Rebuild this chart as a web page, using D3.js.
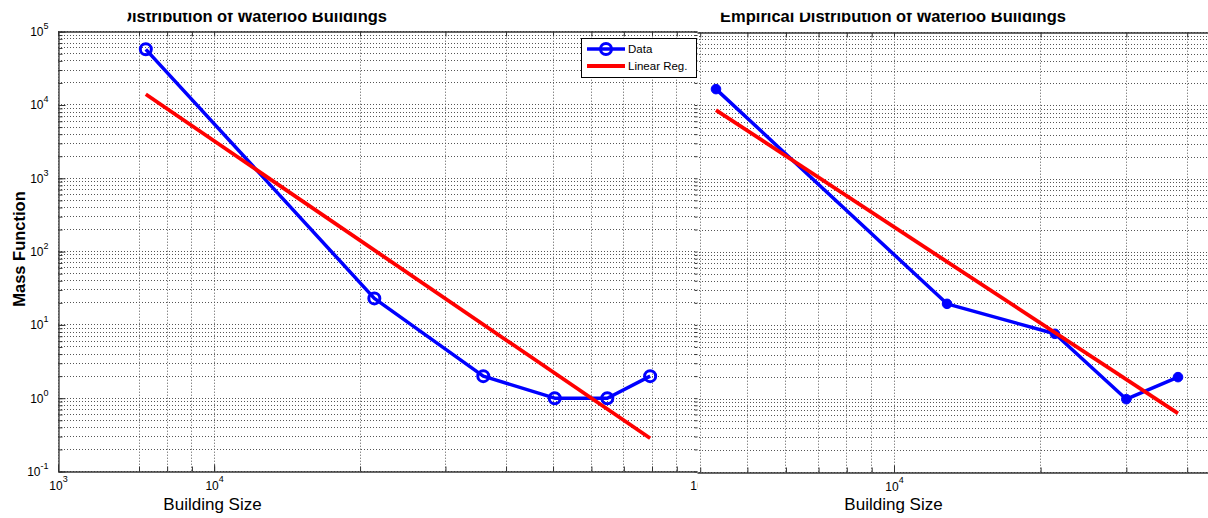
<!DOCTYPE html>
<html>
<head>
<meta charset="utf-8">
<script src="https://cdn.jsdelivr.net/npm/d3@7/dist/d3.min.js"></script>
<style>
  body { margin: 0; background: #fff; }
  svg { display: block; font-family: 'Liberation Sans', Arial, sans-serif; }
</style>
</head>
<body>
<div id="chart"></div>
<script>
///// DATOS /////
const titleText = 'Empirical Distribution of Waterloo Buildings';
const titleTextCut = 'Distribution of Waterloo Buildings'; // en el panel izquierdo "Empirical" queda fuera del recorte
const xLabelText = 'Building Size';
const yLabelText = 'Mass Function';
const legendLabels = ['Data', 'Linear Reg.'];

// panel izquierdo
const leftSize = [7230, 21400, 35900, 50400, 64700, 79300];
const leftMass = [57500, 23, 2, 1, 1, 2];
const leftFitSize = [7230, 79300];
const leftFitMass = [14000, 0.284];

// panel derecho
const rightSize = [4310, 12850, 21400, 30000, 38300];
const rightMass = [17000, 20, 7.8, 1, 2];
const rightFitSize = [4310, 38300];
const rightFitMass = [8800, 0.64];

// etiquetas de ejes (exponentes de 10)
const yTickExps = [-1, 0, 1, 2, 3, 4, 5];
const leftXTickExps = [3, 4, 5];
const rightXTickExps = [4];
const leftMinorFrom = 7000; // el eje izquierdo no muestra marcas entre 10^3 y 7·10^3

///// ESTILO /////
const W = 1208, H = 518;
const blue = '#0000ff', red = '#ff0000';
const axisColor = '#333', gridColor = '#555';
const tickFont = "'Liberation Sans Narrow', 'Liberation Sans', Arial, sans-serif";

const svg = d3.select('#chart').append('svg').attr('width', W).attr('height', H);
svg.append('rect').attr('width', W).attr('height', H).attr('fill', '#fff');
const defs = svg.append('defs');

function clip(id, x, y, w, h) {
    defs.append('clipPath').attr('id', id).append('rect')
        .attr('x', x).attr('y', y).attr('width', w).attr('height', h);
    return 'url(#' + id + ')';
}

// marcas menores de una escala logarítmica (1..9 x 10^k)
function logTicks(lo, hi) {
    let out = [];
    for (let k = Math.floor(Math.log10(lo)); k <= Math.ceil(Math.log10(hi)); k++) {
        for (let m = 1; m <= 9; m++) {
            let v = m * Math.pow(10, k);
            if (v >= lo * 0.999 && v <= hi * 1.001) out.push(v);
        }
    }
    return out;
}
const crisp = v => Math.round(v - 0.5) + 0.5;

function labelPow(sel, fontSize, supShift) {
    sel.selectAll('.tick text').each(function (d) {
        let t = d3.select(this);
        let e = Math.round(Math.log10(d));
        t.text(null)
            .attr('fill', '#000')
            .style('font-family', tickFont)
            .style('font-size', fontSize + 'px');
        t.append('tspan').text('10');
        t.append('tspan').attr('dy', -supShift).style('font-size', (fontSize * 0.75) + 'px').text(e);
    });
}

function styleAxis(g) {
    g.select('.domain').attr('stroke', axisColor).attr('stroke-width', 1.3);
    g.selectAll('.tick line').attr('stroke', axisColor);
}

function drawPanel(g, p) {
    const x = p.x, y = p.y;
    const x0 = p.xLeft, x1 = p.xRight;
    const yTop = y(1e5), yBot = y(0.1);

    //Rejilla
    let grid = g.append('g').attr('stroke', gridColor).attr('stroke-width', 1).attr('stroke-dasharray', '1,2');
    grid.selectAll('.hg').data(p.yMinor).join('line')
        .attr('x1', x0).attr('x2', x1)
        .attr('y1', d => crisp(y(d))).attr('y2', d => crisp(y(d)));
    grid.selectAll('.vg').data(p.xMinor).join('line')
        .attr('x1', d => crisp(x(d))).attr('x2', d => crisp(x(d)))
        .attr('y1', yTop).attr('y2', yBot);

    //Ejes X (abajo y arriba, marcas hacia dentro)
    let xb = g.append('g').attr('transform', 'translate(0,' + crisp(yBot) + ')')
        .call(d3.axisBottom(x).tickValues(p.xMinor).tickSizeInner(-5).tickSizeOuter(0).tickFormat(''));
    styleAxis(xb);
    let xbm = g.append('g').attr('transform', 'translate(0,' + crisp(yBot) + ')')
        .call(d3.axisBottom(x).tickValues(p.xMajor).tickSizeInner(-7).tickSizeOuter(0).tickPadding(10));
    styleAxis(xbm);
    xbm.select('.domain').remove();
    labelPow(xbm, 12, 8);

    let xt = g.append('g').attr('transform', 'translate(0,' + crisp(yTop) + ')')
        .call(d3.axisTop(x).tickValues(p.xMinor).tickSizeInner(-5).tickSizeOuter(0).tickFormat(''));
    styleAxis(xt);

    //Ejes Y
    if (p.yAxisLeft != null) {
        let yl = g.append('g').attr('transform', 'translate(' + crisp(p.yAxisLeft) + ',0)')
            .call(d3.axisLeft(y).tickValues(p.yMinor).tickSizeInner(-4).tickSizeOuter(0).tickFormat(''));
        styleAxis(yl);
        let ylm = g.append('g').attr('transform', 'translate(' + crisp(p.yAxisLeft) + ',0)')
            .call(d3.axisLeft(y).tickValues(yTickExps.map(e => Math.pow(10, e))).tickSizeInner(-7).tickSizeOuter(0).tickPadding(10));
        styleAxis(ylm);
        ylm.select('.domain').remove();
        labelPow(ylm, 12, 7);
    }
    if (p.yAxisRight != null) {
        let yr = g.append('g').attr('transform', 'translate(' + crisp(p.yAxisRight) + ',0)')
            .call(d3.axisRight(y).tickValues(p.yMinor).tickSizeInner(-5).tickSizeOuter(0).tickFormat(''));
        styleAxis(yr);
    }

    //Líneas de datos y regresión
    let line = d3.line().x(d => x(d[0])).y(d => y(d[1]));
    g.append('path').datum(d3.zip(p.size, p.mass))
        .attr('d', line).attr('fill', 'none').attr('stroke', blue)
        .attr('stroke-width', 3.5).attr('stroke-linejoin', 'round');
    g.append('g').selectAll('circle').data(d3.zip(p.size, p.mass)).join('circle')
        .attr('cx', d => x(d[0])).attr('cy', d => y(d[1]))
        .attr('r', p.filled ? 4.8 : 5.5)
        .attr('fill', p.filled ? blue : 'none')
        .attr('stroke', blue).attr('stroke-width', p.filled ? 1 : 3);
    g.append('path').datum(d3.zip(p.fitSize, p.fitMass))
        .attr('d', line).attr('fill', 'none').attr('stroke', red)
        .attr('stroke-width', 3.8);
}

///// PANEL IZQUIERDO /////
const yL = d3.scaleLog().domain([0.1, 1e5]).range([471.5, 31.7]);
// eje X recortado: 10^3 en el borde, luego logarítmico desde 7·10^3
const xL = d3.scaleLog().domain([1e3, leftMinorFrom, 1e5]).range([58, 139, 699]);

const left = svg.append('g').attr('clip-path', clip('clipL', 0, 0, 697.5, H));
drawPanel(left, {
    x: xL, y: yL, xLeft: 58, xRight: 699,
    xMinor: [1e3].concat(logTicks(leftMinorFrom, 1e5)),
    xMajor: leftXTickExps.map(e => Math.pow(10, e)),
    yMinor: logTicks(0.1, 1e5),
    yAxisLeft: 58, yAxisRight: 699,
    size: leftSize, mass: leftMass, fitSize: leftFitSize, fitMass: leftFitMass,
    filled: false
});

//Leyenda
const lg = left.append('g').attr('transform', 'translate(581,38)');
lg.append('rect').attr('x', 0.5).attr('y', 0.5).attr('width', 115).attr('height', 39)
    .attr('fill', '#fff').attr('stroke', '#000').attr('stroke-width', 1);
lg.append('line').attr('x1', 6).attr('x2', 44).attr('y1', 11).attr('y2', 11)
    .attr('stroke', blue).attr('stroke-width', 3.5);
lg.append('circle').attr('cx', 25).attr('cy', 11).attr('r', 5.5)
    .attr('fill', 'none').attr('stroke', blue).attr('stroke-width', 3);
lg.append('line').attr('x1', 6).attr('x2', 44).attr('y1', 28).attr('y2', 28)
    .attr('stroke', red).attr('stroke-width', 3.8);
lg.selectAll('text').data(legendLabels).join('text')
    .attr('x', 47).attr('y', (d, i) => 11 + i * 17).attr('dy', '0.35em')
    .style('font-size', '11.5px').attr('fill', '#000').text(d => d);

///// PANEL DERECHO /////
const yR = d3.scaleLog().domain([0.1, 1e5]).range([472.5, 32.7]);
const xR = d3.scaleLog().domain([1e3, 1e5]).range([894 - 487, 894 + 487]);

const right = svg.append('g').attr('clip-path', clip('clipR', 697.5, 0, W - 697.5, H));
right.append('rect').attr('x', 697.5).attr('y', 0).attr('width', W - 697.5).attr('height', H).attr('fill', '#fff');
drawPanel(right, {
    x: xR, y: yR, xLeft: 600, xRight: 1300,
    xMinor: logTicks(3000, 1e5),
    xMajor: rightXTickExps.map(e => Math.pow(10, e)),
    yMinor: logTicks(0.1, 1e5),
    yAxisLeft: null, yAxisRight: null,
    size: rightSize, mass: rightMass, fitSize: rightFitSize, fitMass: rightFitMass,
    filled: true
});

///// TÍTULOS Y ETIQUETAS /////
svg.append('text').attr('clip-path', clip('clipTL', 127.5, 12.7, 570, 30))
    .attr('x', 387).attr('y', 21.5).attr('text-anchor', 'end')
    .style('font-size', '16.5px').style('font-weight', 'bold').text(titleTextCut);
svg.append('text').attr('clip-path', clip('clipTR', 697.5, 12.7, W - 697.5, 30))
    .attr('x', 893).attr('y', 21.5).attr('text-anchor', 'middle')
    .style('font-size', '16.5px').style('font-weight', 'bold').text(titleText);

svg.selectAll('.xlab').data([212.5, 893.5]).join('text')
    .attr('x', d => d).attr('y', 510).attr('text-anchor', 'middle')
    .style('font-size', '17px').text(xLabelText);

svg.append('text').attr('transform', 'translate(25,249) rotate(-90)')
    .attr('text-anchor', 'middle').style('font-size', '16.5px').style('font-weight', 'bold')
    .text(yLabelText);
</script>
</body>
</html>
